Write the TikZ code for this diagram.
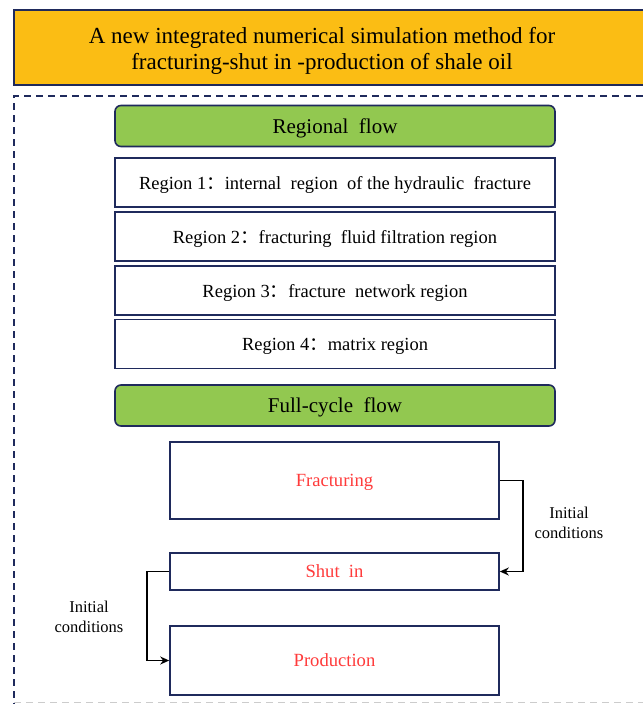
\documentclass[tikz,border=0pt]{standalone}
\usepackage{fontspec}
\setmainfont{Liberation Serif}
\newfontfamily\cjk{Noto Sans CJK SC}
\definecolor{orangeA}{HTML}{FBBD14}
\definecolor{greenA}{HTML}{92C850}
\definecolor{navy}{HTML}{1F2A5C}
\definecolor{redA}{HTML}{FF3B3B}
\newcommand{\fc}{{\cjk ：}}
\tikzset{
  headbox/.style={draw=navy, line width=1.6bp, fill=greenA, rounded corners=6bp, minimum width=440bp, minimum height=41bp, font=\fontsize{21bp}{24bp}\selectfont, inner sep=0pt, text depth=0pt},
  regbox/.style={draw=navy, line width=1.6bp, fill=white, minimum width=440bp, minimum height=49bp, font=\fontsize{18.5bp}{21bp}\selectfont, inner sep=0pt, text depth=0pt},
  stagebox/.style={draw=navy, line width=1.6bp, fill=white, minimum width=329bp, font=\fontsize{18.6bp}{21bp}\selectfont, text=redA, inner sep=0pt, text depth=0pt},
  flowarrow/.style={draw=black, line width=1.8bp, -{Stealth[length=9bp,width=8bp]}},
  lab/.style={font=\fontsize{16.5bp}{20bp}\selectfont, align=center, inner sep=0pt}
}
\usetikzlibrary{arrows.meta}
\begin{document}
\begin{tikzpicture}[x=1bp,y=-1bp]
\useasboundingbox (0,0) rectangle (643,704);
\fill[white] (0,0) rectangle (643,704);
% title bar
\fill[orangeA] (14,10) rectangle (643,85);
\draw[navy, line width=1.4bp] (643,10) -- (14,10) -- (14,85) -- (643,85);
\node[font=\fontsize{23bp}{26bp}\selectfont, align=center, inner sep=0pt] (title) at (322,51) {A new integrated numerical simulation method for\\fracturing-shut in -production of shale oil};
% dashed frame
\draw[navy, line width=1.5bp, dash pattern=on 7bp off 5bp] (643,96) -- (14,96) -- (14,704);
\draw[gray!40, line width=1bp, dash pattern=on 7bp off 5bp] (14,702) -- (643,702);
% regional flow
\node[headbox] (rf) at (335,126) {Regional\ \ flow};
\node[regbox] (r1) at (335,182.5) {Region 1\fc internal\ \ region\ \ of the hydraulic\ \ fracture};
\node[regbox] (r2) at (335,236.5) {Region 2\fc fracturing\ \ fluid filtration region};
\node[regbox] (r3) at (335,290.5) {Region 3\fc fracture\ \ network region};
\node[regbox] (r4) at (335,344) {Region 4\fc matrix region};
% full-cycle
\node[headbox] (fc) at (335,405.5) {Full-cycle\ \ flow};
\node[stagebox, minimum height=77bp] (frac) at (334.5,480.5) {Fracturing};
\node[stagebox, minimum height=37bp] (shut) at (334.5,571.5) {Shut\ \ in};
\node[stagebox, minimum height=69bp] (prod) at (334.5,660.5) {Production};
\coordinate (rc1) at (523,0);
\coordinate (lc1) at (147,0);
\draw[flowarrow] (frac.east) -- (frac.east -| rc1) |- (shut.east);
\draw[flowarrow] (shut.west) -- (shut.west -| lc1) |- (prod.west);
\node[lab] (lab1) at (569,523) {Initial\\conditions};
\node[lab] (lab2) at (89,617) {Initial\\conditions};
\end{tikzpicture}
\end{document}
